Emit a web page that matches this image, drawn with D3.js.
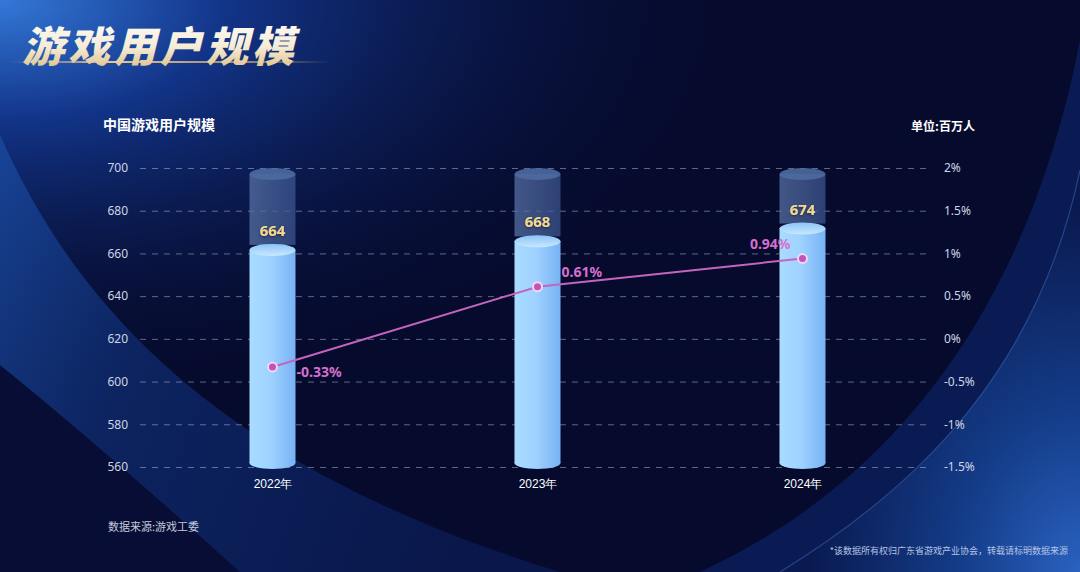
<!DOCTYPE html>
<html>
<head>
<meta charset="utf-8">
<script src="https://cdn.jsdelivr.net/npm/d3@7"></script>
<style>
  html, body { margin: 0; padding: 0; background: #060b2e; overflow: hidden; }
  svg { display: block; font-family: "Noto Sans CJK SC", "Noto Sans", sans-serif; }
</style>
</head>
<body>
<div id="chart"></div>
<script>
// -------------------------------------------------------------
// Data
// -------------------------------------------------------------
const YEARS = ["2022年", "2023年", "2024年"];
const USERS = [664, 668, 674];            // 百万人
const GROWTH = [-0.33, 0.61, 0.94];       // %
const LEFT_TICKS = [560, 580, 600, 620, 640, 660, 680, 700];
const RIGHT_TICKS = [-1.5, -1, -0.5, 0, 0.5, 1, 1.5, 2];
const LABEL_SIDE = ["right-below", "right-above", "left-above"];

const TITLE = "游戏用户规模";
const SUBTITLE = "中国游戏用户规模";
const UNIT = "单位:百万人";
const SOURCE = "数据来源:游戏工委";
const NOTE = "*该数据所有权归广东省游戏产业协会，转载请标明数据来源";

// -------------------------------------------------------------
// Layout
// -------------------------------------------------------------
const W = 1080, H = 572;
const plot = { left: 140, right: 932, top: 168, bottom: 467 };

const svg = d3.select("#chart").append("svg")
  .attr("width", W)
  .attr("height", H);

const defs = svg.append("defs");

// ---- background ----
const bgCorner = defs.append("radialGradient").attr("id", "bgCorner")
  .attr("cx", 0).attr("cy", 0).attr("r", 0.7);
bgCorner.append("stop").attr("offset", "0%").attr("stop-color", "#3478d8");
bgCorner.append("stop").attr("offset", "30%").attr("stop-color", "#123488");
bgCorner.append("stop").attr("offset", "100%").attr("stop-color", "#060b2e").attr("stop-opacity", 0);

const bgRight = defs.append("radialGradient").attr("id", "bgRight")
  .attr("cx", 1).attr("cy", 1).attr("r", 0.9);
bgRight.append("stop").attr("offset", "0%").attr("stop-color", "#2a62c0");
bgRight.append("stop").attr("offset", "45%").attr("stop-color", "#143c88");
bgRight.append("stop").attr("offset", "100%").attr("stop-color", "#0a1a50");

const bgLeftBand = defs.append("linearGradient").attr("id", "bgLeftBand")
  .attr("x1", 0).attr("y1", 0).attr("x2", 1).attr("y2", 0.3);
bgLeftBand.append("stop").attr("offset", "0%").attr("stop-color", "#1a4aa0");
bgLeftBand.append("stop").attr("offset", "35%").attr("stop-color", "#0e2a6c");
bgLeftBand.append("stop").attr("offset", "100%").attr("stop-color", "#0a1a52");

svg.append("rect").attr("width", W).attr("height", H).attr("fill", "#060b2e");
svg.append("rect").attr("width", W).attr("height", H).attr("fill", "url(#bgCorner)");

// left sweeping band
svg.append("path")
  .attr("d", "M0,135 C90,340 260,480 560,572 L0,572 Z")
  .attr("fill", "url(#bgLeftBand)")
  .attr("opacity", 0.8);
svg.append("path")
  .attr("d", "M0,365 C80,430 160,500 240,572 L0,572 Z")
  .attr("fill", "#070d34");

// right sweeping curves
svg.append("path")
  .attr("d", "M1080,40 C1030,300 900,480 700,572 L1080,572 Z")
  .attr("fill", "#0c2262")
  .attr("opacity", 0.75);
svg.append("path")
  .attr("d", "M1080,170 C1040,360 930,480 780,572 L1080,572 Z")
  .attr("fill", "url(#bgRight)");
svg.append("path")
  .attr("d", "M1080,170 C1040,360 930,480 780,572")
  .attr("fill", "none")
  .attr("stroke", "#4b82d8")
  .attr("stroke-opacity", 0.4)
  .attr("stroke-width", 1.2);

// ---- title ----
const titleGrad = defs.append("linearGradient").attr("id", "titleGrad")
  .attr("x1", 0).attr("y1", 0).attr("x2", 0).attr("y2", 1);
titleGrad.append("stop").attr("offset", "0%").attr("stop-color", "#ffffff");
titleGrad.append("stop").attr("offset", "55%").attr("stop-color", "#f6ecd6");
titleGrad.append("stop").attr("offset", "100%").attr("stop-color", "#d9b878");

const glowGrad = defs.append("linearGradient").attr("id", "glowGrad");
glowGrad.append("stop").attr("offset", "0%").attr("stop-color", "#f0c070").attr("stop-opacity", 0);
glowGrad.append("stop").attr("offset", "30%").attr("stop-color", "#ffd890").attr("stop-opacity", 0.9);
glowGrad.append("stop").attr("offset", "75%").attr("stop-color", "#f0c070").attr("stop-opacity", 0.6);
glowGrad.append("stop").attr("offset", "100%").attr("stop-color", "#f0c070").attr("stop-opacity", 0);

svg.append("rect")
  .attr("x", 10).attr("y", 61).attr("width", 320).attr("height", 2)
  .attr("fill", "url(#glowGrad)");

svg.append("text")
  .attr("transform", "translate(22,62) skewX(-14)")
  .attr("font-size", 42)
  .attr("font-weight", 900)
  .attr("letter-spacing", 4)
  .attr("fill", "url(#titleGrad)")
  .text(TITLE);

svg.append("text")
  .attr("x", 103).attr("y", 130)
  .attr("font-size", 14).attr("font-weight", 700)
  .attr("fill", "#ffffff")
  .text(SUBTITLE);

svg.append("text")
  .attr("x", 975).attr("y", 131)
  .attr("text-anchor", "end")
  .attr("font-size", 12).attr("font-weight", 700)
  .attr("fill", "#ffffff")
  .text(UNIT);

// -------------------------------------------------------------
// Scales
// -------------------------------------------------------------
const x = d3.scalePoint()
  .domain(YEARS)
  .range([plot.left, plot.right + 3])
  .padding(0.5);

const yLeft = d3.scaleLinear()
  .domain([560, 700])
  .range([plot.bottom, plot.top]);

const yRight = d3.scaleLinear()
  .domain([-1.5, 2])
  .range([plot.bottom, plot.top]);

// ---- grid ----
const grid = svg.append("g")
  .attr("transform", `translate(${plot.left},0)`)
  .call(d3.axisLeft(yLeft).tickValues(LEFT_TICKS).tickSize(-(plot.right - plot.left)).tickFormat(""));
grid.select(".domain").remove();
grid.selectAll(".tick line")
  .attr("stroke", "#a9b3cc")
  .attr("stroke-opacity", 0.55)
  .attr("stroke-dasharray", "6,6");

// ---- left axis ----
const axL = svg.append("g")
  .attr("transform", `translate(128,0)`)
  .call(d3.axisLeft(yLeft).tickValues(LEFT_TICKS).tickSize(0).tickPadding(0));
axL.select(".domain").remove();
axL.selectAll("text")
  .attr("fill", "#cdd5e6")
  .attr("font-size", 12)
  .attr("font-family", "\"Noto Sans\", sans-serif");

// ---- right axis ----
const axR = svg.append("g")
  .attr("transform", `translate(944,0)`)
  .call(d3.axisRight(yRight).tickValues(RIGHT_TICKS).tickSize(0).tickPadding(0).tickFormat(d => d + "%"));
axR.select(".domain").remove();
axR.selectAll("text")
  .attr("fill", "#cdd5e6")
  .attr("font-size", 12)
  .attr("font-family", "\"Noto Sans\", sans-serif");

// ---- x axis labels ----
const axX = svg.append("g")
  .attr("transform", `translate(0,${plot.bottom + 12})`)
  .call(d3.axisBottom(x).tickSize(0).tickPadding(0));
axX.select(".domain").remove();
axX.selectAll("text")
  .attr("fill", "#ffffff")
  .attr("font-size", 12)
  .attr("font-weight", 500);

// -------------------------------------------------------------
// Cylinders
// -------------------------------------------------------------
const barW = 46, rx = barW / 2, ry = 6;

const bodyGrad = defs.append("linearGradient").attr("id", "bodyGrad")
  .attr("x1", 0).attr("y1", 0).attr("x2", 1).attr("y2", 0);
bodyGrad.append("stop").attr("offset", "0%").attr("stop-color", "#a9dcff");
bodyGrad.append("stop").attr("offset", "45%").attr("stop-color", "#9fd2ff");
bodyGrad.append("stop").attr("offset", "100%").attr("stop-color", "#78b2f4");

const ghostGrad = defs.append("linearGradient").attr("id", "ghostGrad")
  .attr("x1", 0).attr("y1", 0).attr("x2", 1).attr("y2", 0);
ghostGrad.append("stop").attr("offset", "0%").attr("stop-color", "#5a75a8");
ghostGrad.append("stop").attr("offset", "100%").attr("stop-color", "#3c5590");

const topGrad = defs.append("linearGradient").attr("id", "topGrad")
  .attr("x1", 0).attr("y1", 0).attr("x2", 0).attr("y2", 1);
topGrad.append("stop").attr("offset", "0%").attr("stop-color", "#8cc4f6");
topGrad.append("stop").attr("offset", "100%").attr("stop-color", "#c8e8ff");

defs.append("filter").attr("id", "labelShadow")
  .append("feDropShadow")
  .attr("dx", 0).attr("dy", 1).attr("stdDeviation", 1.2)
  .attr("flood-color", "#1a2240").attr("flood-opacity", 0.9);

const bars = svg.append("g")
  .selectAll("g")
  .data(YEARS.map((yr, i) => ({ year: yr, value: USERS[i] })))
  .join("g");

const yBase = yLeft(560) - 4;
const yFull = yLeft(700) + 6;

// ghost (full-height) cylinder
bars.append("rect")
  .attr("x", d => x(d.year) - rx)
  .attr("y", yFull)
  .attr("width", barW)
  .attr("height", d => yLeft(d.value) - yFull)
  .attr("fill", "url(#ghostGrad)")
  .attr("opacity", 0.72);
bars.append("ellipse")
  .attr("cx", d => x(d.year))
  .attr("cy", yFull)
  .attr("rx", rx).attr("ry", ry)
  .attr("fill", "#4e6aa0")
  .attr("opacity", 0.9);

// value cylinder body
bars.append("rect")
  .attr("x", d => x(d.year) - rx)
  .attr("y", d => yLeft(d.value) + 5)
  .attr("width", barW)
  .attr("height", d => yBase - yLeft(d.value) - 5)
  .attr("fill", "url(#bodyGrad)");
bars.append("ellipse")
  .attr("cx", d => x(d.year))
  .attr("cy", yBase)
  .attr("rx", rx).attr("ry", ry)
  .attr("fill", "url(#bodyGrad)");
bars.append("ellipse")
  .attr("cx", d => x(d.year))
  .attr("cy", d => yLeft(d.value) + 5)
  .attr("rx", rx).attr("ry", ry)
  .attr("fill", "url(#topGrad)");

// value labels
bars.append("text")
  .attr("x", d => x(d.year))
  .attr("y", d => yLeft(d.value) - 9)
  .attr("text-anchor", "middle")
  .attr("font-size", 15)
  .attr("font-weight", 700)
  .attr("font-family", "\"Noto Sans\", sans-serif")
  .attr("fill", "#f4d892")
  .attr("filter", "url(#labelShadow)")
  .text(d => d.value);

// -------------------------------------------------------------
// Growth line
// -------------------------------------------------------------
const pts = YEARS.map((yr, i) => ({ year: yr, g: GROWTH[i], side: LABEL_SIDE[i] }));

svg.append("path")
  .datum(pts)
  .attr("fill", "none")
  .attr("stroke", "#c464be")
  .attr("stroke-width", 2)
  .attr("d", d3.line().x(d => x(d.year)).y(d => yRight(d.g)));

svg.append("g")
  .selectAll("circle")
  .data(pts)
  .join("circle")
  .attr("cx", d => x(d.year))
  .attr("cy", d => yRight(d.g))
  .attr("r", 4.5)
  .attr("fill", "#c254b8")
  .attr("stroke", "#f2d6f2")
  .attr("stroke-width", 2);

svg.append("g")
  .selectAll("text")
  .data(pts)
  .join("text")
  .attr("x", d => x(d.year) + (d.side.startsWith("right") ? 24 : -12))
  .attr("y", d => yRight(d.g) + (d.side.endsWith("below") ? 10 : -10))
  .attr("text-anchor", d => d.side.startsWith("right") ? "start" : "end")
  .attr("font-size", 14)
  .attr("font-weight", 700)
  .attr("font-family", "\"Noto Sans\", sans-serif")
  .attr("fill", "#d56fcd")
  .text(d => d.g.toFixed(2) + "%");

// -------------------------------------------------------------
// Footer
// -------------------------------------------------------------
svg.append("text")
  .attr("x", 108).attr("y", 531)
  .attr("font-size", 11)
  .attr("fill", "#c3cadb")
  .text(SOURCE);

svg.append("text")
  .attr("x", 1068).attr("y", 554)
  .attr("text-anchor", "end")
  .attr("font-size", 9)
  .attr("fill", "#b6c4e4")
  .text(NOTE);
</script>
</body>
</html>
